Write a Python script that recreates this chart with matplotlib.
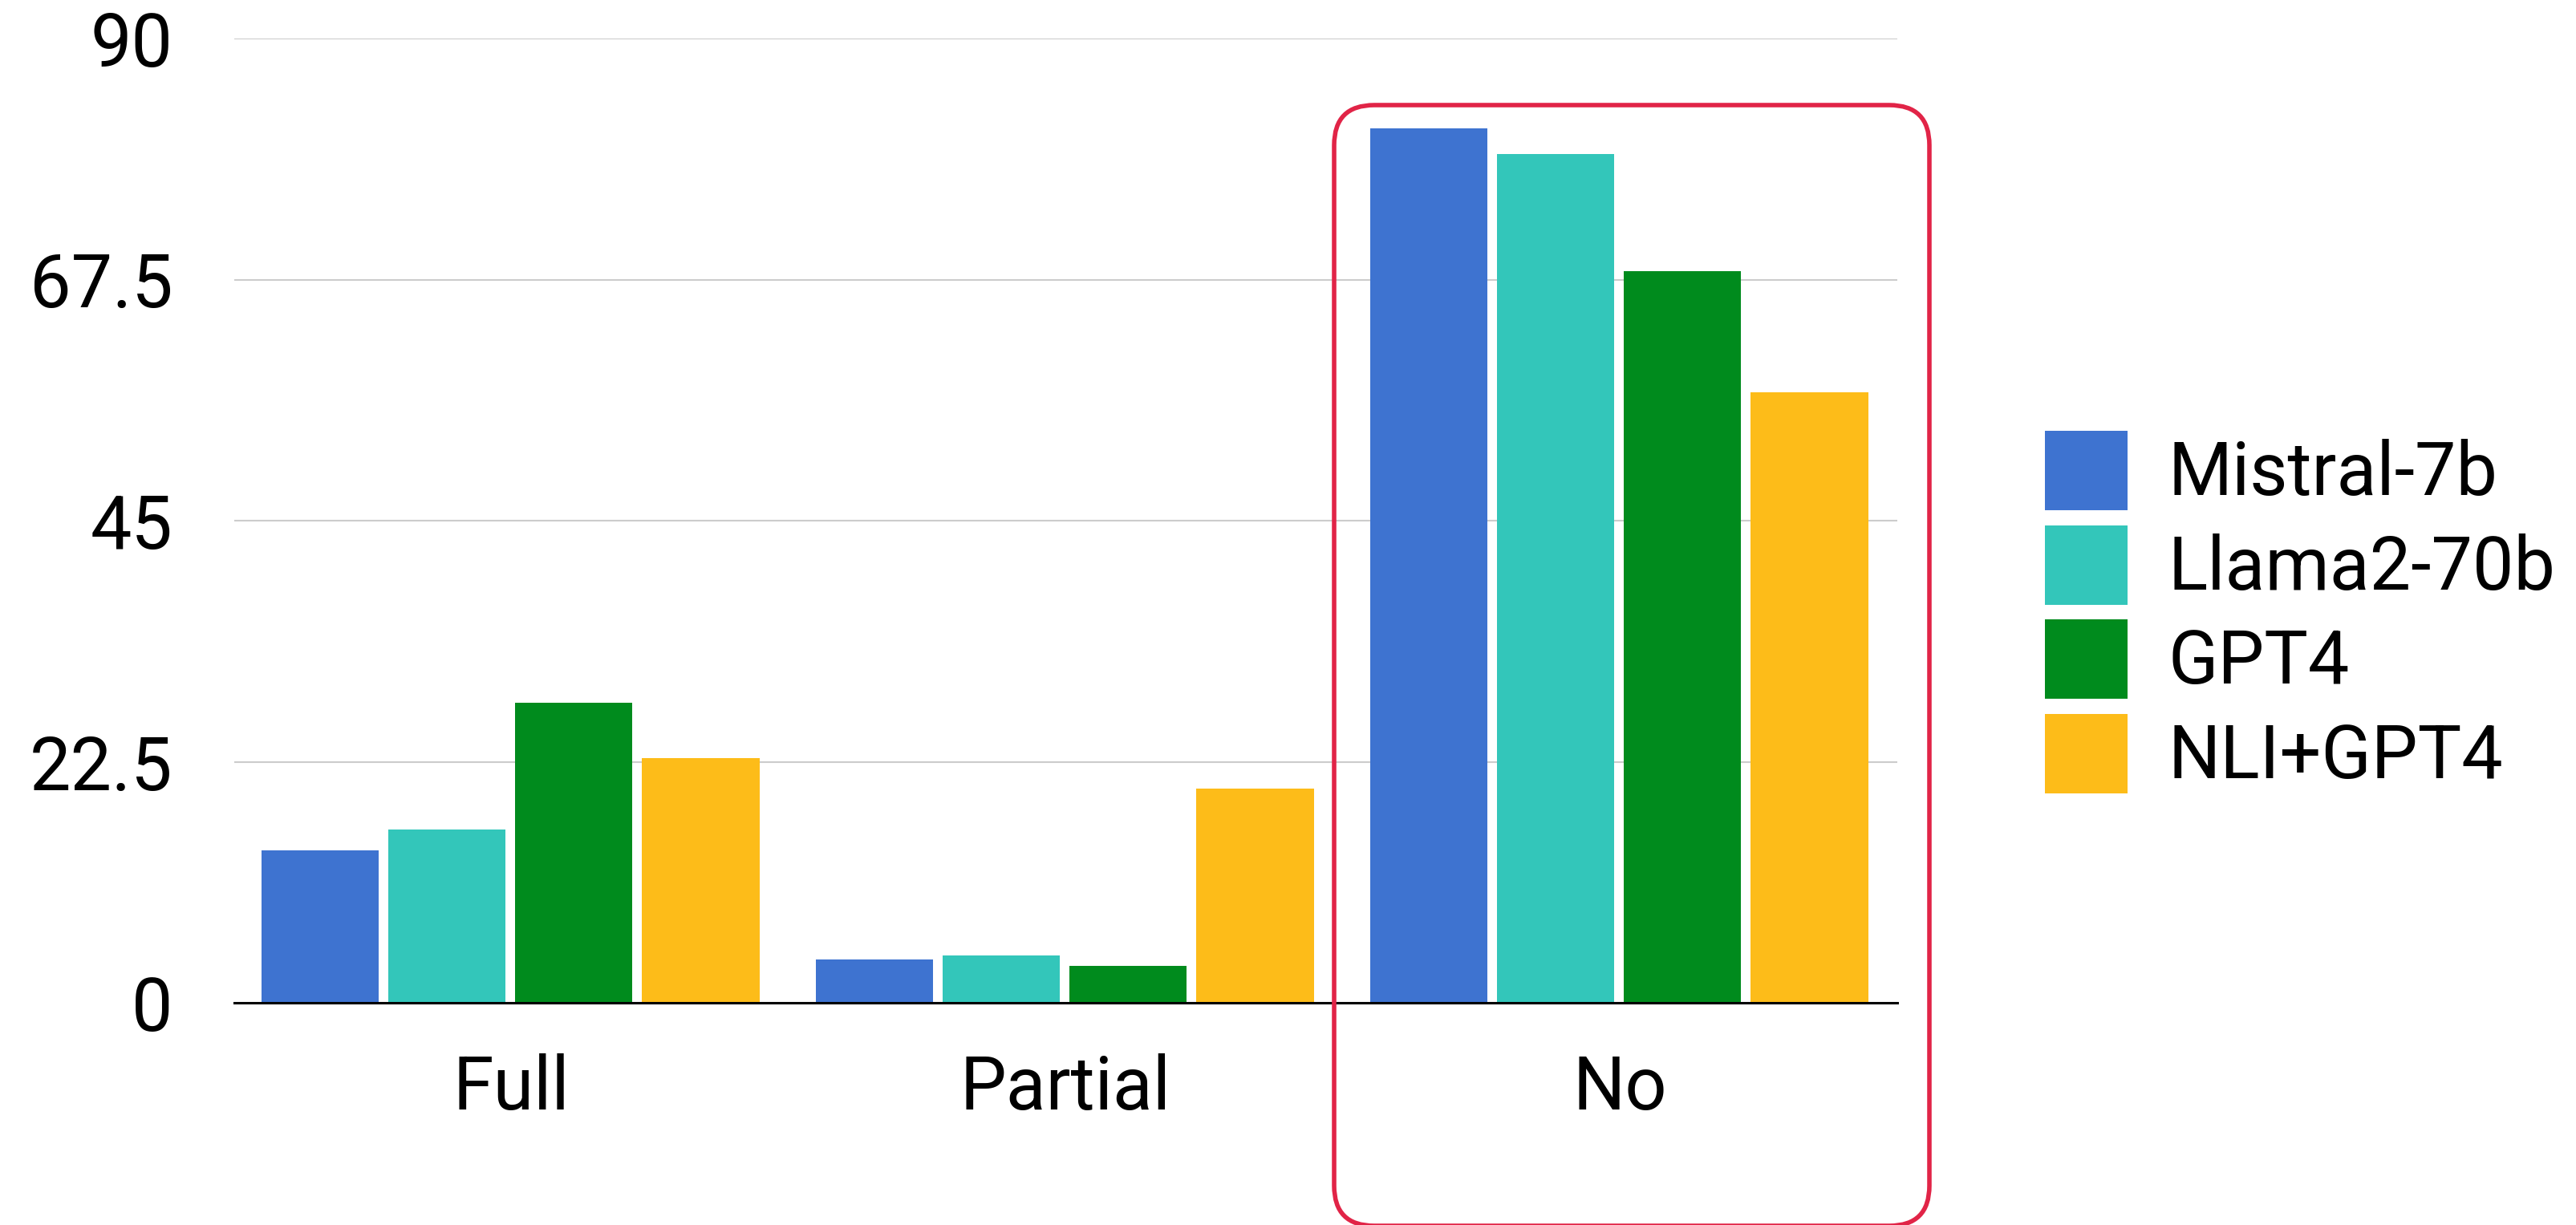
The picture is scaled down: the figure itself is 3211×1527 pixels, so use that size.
import matplotlib
matplotlib.use("Agg")
import matplotlib.pyplot as plt
import numpy as np
from matplotlib.patches import FancyBboxPatch, Patch
from matplotlib.transforms import IdentityTransform

categories = ["Full", "Partial", "No"]
series_names = ["Mistral-7b", "Llama2-70b", "GPT4", "NLI+GPT4"]
mistral = [14.2, 4.05, 81.6]
llama = [16.2, 4.4, 79.2]
gpt4 = [28.0, 3.45, 68.3]
nli_gpt4 = [22.8, 20.0, 57.0]
yticks = [0, 22.5, 45, 67.5, 90]
ytick_labels = ["0", "22.5", "45", "67.5", "90"]

colors = ["#3E73D0", "#33C6BA", "#008B1D", "#FDBC19"]
series = [mistral, llama, gpt4, nli_gpt4]

plt.rcParams['font.family'] = ['Roboto', 'DejaVu Sans']
W, H = 3211, 1527
fig = plt.figure(figsize=(W / 100, H / 100), dpi=100)
ax = fig.add_axes([292 / W, 1 - 1250 / H, (2365 - 292) / W, (1250 - 48) / H])

x = np.arange(len(categories))
slot = 0.229
width = 0.212
for j, (vals, c, name) in enumerate(zip(series, colors, series_names)):
    ax.bar(x + (j - 1.5) * slot - 0.002, vals, width=width, color=c, label=name, zorder=3)

ax.set_xlim(-0.5, 2.5)
ax.set_ylim(0, 90)
ax.set_yticks(yticks)
ax.set_yticklabels(ytick_labels)
ax.set_xticks(x)
ax.set_xticklabels(categories)
ax.tick_params(axis='both', length=0, labelsize=66, colors='black')
ax.tick_params(axis='y', pad=55)
ax.tick_params(axis='x', pad=45)
ax.grid(axis='y', color='#CCCCCC', linewidth=1.5, zorder=0)
for s in ['top', 'right', 'left']:
    ax.spines[s].set_visible(False)
ax.spines['bottom'].set_color('black')
ax.spines['bottom'].set_linewidth(2.2)
ax.spines['bottom'].set_zorder(4)

handles = [Patch(facecolor=c, edgecolor='none') for c in colors]
fig.legend(handles, series_names, loc='upper left',
           bbox_to_anchor=(2549 / W, 1 - 537 / H), frameon=False,
           fontsize=66, handlelength=1.12, handleheight=1.285,
           handletextpad=0.55, labelspacing=0.2, borderpad=0, borderaxespad=0)

box = FancyBboxPatch((1663, -1), 2405 - 1663, (H - 131) + 1,
                     boxstyle="round,pad=0,rounding_size=50",
                     transform=IdentityTransform(), fill=False,
                     edgecolor='#E12447', linewidth=4.0, zorder=10)
fig.add_artist(box)

fig.savefig("out.png", dpi=100)
